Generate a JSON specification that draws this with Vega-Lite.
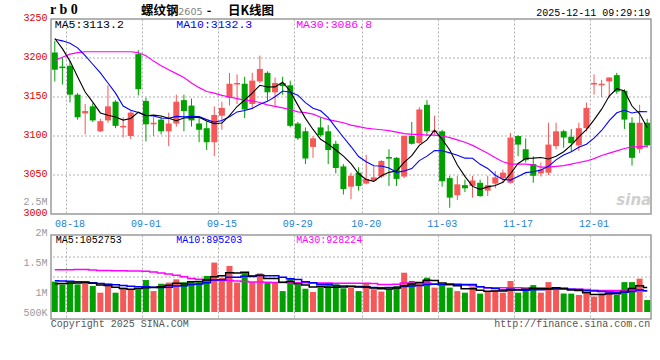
{
  "$schema": "https://vega.github.io/schema/vega-lite/v6.json",
  "padding": {"left": 22, "top": 2, "right": 10, "bottom": 4},
  "background": "white",
  "config": {
    "view": {"stroke": "#9a9a9a", "strokeWidth": 1.5},
    "axis": {"labelFont": "Liberation Mono", "labelFontSize": 10, "domain": false, "ticks": false, "gridColor": "#b0b0b0", "gridDash": [2, 2], "gridWidth": 1, "labelOverlap": false, "labelFlush": false}
  },
  "datasets": {
    "k": [
      {"d":"08-14","o":3207,"h":3222,"l":3170,"c":3185,"v":1320000,"m5":3225,"m10":3224,"m30":3197,"vm5":1230000,"vm10":1360000,"vm30":1840000},
      {"d":"08-15","o":3189,"h":3200,"l":3166,"c":3187,"v":1200000,"m5":3212,"m10":3222,"m30":3201,"vm5":1240000,"vm10":1350000,"vm30":1840000},
      {"d":"08-18","o":3190,"h":3196,"l":3143,"c":3153,"v":1350000,"m5":3196,"m10":3219,"m30":3205,"vm5":1250000,"vm10":1340000,"vm30":1840000},
      {"d":"08-19","o":3153,"h":3155,"l":3121,"c":3124,"v":1200000,"m5":3176,"m10":3213,"m30":3207,"vm5":1265000,"vm10":1320000,"vm30":1850000},
      {"d":"08-20","o":3129,"h":3141,"l":3102,"c":3132,"v":1350000,"m5":3156.4,"m10":3203,"m30":3208,"vm5":1284000,"vm10":1300000,"vm30":1850000},
      {"d":"08-21","o":3138,"h":3142,"l":3118,"c":3120,"v":1130000,"m5":3143.4,"m10":3192,"m30":3208,"vm5":1246000,"vm10":1270000,"vm30":1830000},
      {"d":"08-22","o":3106,"h":3122,"l":3105,"c":3119,"v":840000,"m5":3129.6,"m10":3181,"m30":3208,"vm5":1174000,"vm10":1240000,"vm30":1810000},
      {"d":"08-25","o":3120,"h":3165,"l":3117,"c":3138,"v":1230000,"m5":3126.6,"m10":3168,"m30":3208,"vm5":1150000,"vm10":1210000,"vm30":1800000},
      {"d":"08-26","o":3144,"h":3146,"l":3110,"c":3113,"v":840000,"m5":3124.4,"m10":3155,"m30":3208,"vm5":1078000,"vm10":1180000,"vm30":1790000},
      {"d":"08-27","o":3111,"h":3124,"l":3098,"c":3113,"v":1060000,"m5":3120.4,"m10":3138.4,"m30":3208,"vm5":1020000,"vm10":1152000,"vm30":1790000},
      {"d":"08-28","o":3100,"h":3132,"l":3096,"c":3130,"v":990000,"m5":3122.4,"m10":3132.9,"m30":3208,"vm5":992000,"vm10":1119000,"vm30":1780000},
      {"d":"08-29","o":3205,"h":3210,"l":3152,"c":3160,"v":990000,"m5":3130.6,"m10":3130.1,"m30":3207,"vm5":1022000,"vm10":1098000,"vm30":1780000},
      {"d":"09-01","o":3145,"h":3149,"l":3093,"c":3115,"v":1390000,"m5":3126.0,"m10":3126.3,"m30":3203,"vm5":1054000,"vm10":1102000,"vm30":1770000},
      {"d":"09-02","o":3115,"h":3124,"l":3100,"c":3117,"v":910000,"m5":3126.8,"m10":3125.6,"m30":3196,"vm5":1068000,"vm10":1073000,"vm30":1740000},
      {"d":"09-03","o":3121,"h":3125,"l":3102,"c":3106,"v":1230000,"m5":3125.6,"m10":3123.0,"m30":3190,"vm5":1102000,"vm10":1061000,"vm30":1700000},
      {"d":"09-04","o":3106,"h":3130,"l":3087,"c":3116,"v":1280000,"m5":3122.8,"m10":3122.6,"m30":3185,"vm5":1160000,"vm10":1076000,"vm30":1650000},
      {"d":"09-05","o":3116,"h":3153,"l":3112,"c":3144,"v":1420000,"m5":3119.6,"m10":3125.1,"m30":3180,"vm5":1246000,"vm10":1134000,"vm30":1600000},
      {"d":"09-08","o":3146,"h":3153,"l":3106,"c":3132,"v":1300000,"m5":3123.0,"m10":3124.5,"m30":3175,"vm5":1228000,"vm10":1141000,"vm30":1530000},
      {"d":"09-09","o":3139,"h":3148,"l":3112,"c":3120,"v":1350000,"m5":3123.6,"m10":3125.2,"m30":3168,"vm5":1316000,"vm10":1192000,"vm30":1460000},
      {"d":"09-10","o":3116,"h":3124,"l":3092,"c":3108,"v":1300000,"m5":3124.0,"m10":3124.8,"m30":3162,"vm5":1330000,"vm10":1216000,"vm30":1420000},
      {"d":"09-11","o":3110,"h":3119,"l":3082,"c":3092,"v":1570000,"m5":3119.2,"m10":3121.0,"m30":3157,"vm5":1388000,"vm10":1274000,"vm30":1400000},
      {"d":"09-12","o":3092,"h":3138,"l":3074,"c":3127,"v":2150000,"m5":3115.8,"m10":3117.7,"m30":3155,"vm5":1534000,"vm10":1390000,"vm30":1380000},
      {"d":"09-15","o":3126,"h":3144,"l":3108,"c":3136,"v":1490000,"m5":3116.6,"m10":3119.8,"m30":3152,"vm5":1572000,"vm10":1400000,"vm30":1380000},
      {"d":"09-16","o":3149,"h":3181,"l":3139,"c":3167,"v":2000000,"m5":3126.0,"m10":3124.8,"m30":3150,"vm5":1702000,"vm10":1509000,"vm30":1370000},
      {"d":"09-17","o":3166,"h":3179,"l":3141,"c":3168,"v":1280000,"m5":3137.8,"m10":3130.9,"m30":3148,"vm5":1698000,"vm10":1514000,"vm30":1350000},
      {"d":"09-18","o":3167,"h":3176,"l":3123,"c":3134,"v":1740000,"m5":3146.2,"m10":3132.7,"m30":3146,"vm5":1732000,"vm10":1560000,"vm30":1330000},
      {"d":"09-19","o":3141,"h":3181,"l":3136,"c":3171,"v":1300000,"m5":3155.0,"m10":3135.4,"m30":3145,"vm5":1562000,"vm10":1548000,"vm30":1310000},
      {"d":"09-22","o":3170,"h":3203,"l":3168,"c":3186,"v":1680000,"m5":3165.0,"m10":3140.8,"m30":3143,"vm5":1600000,"vm10":1586000,"vm30":1300000},
      {"d":"09-23","o":3181,"h":3183,"l":3145,"c":3156,"v":1300000,"m5":3162.8,"m10":3144.4,"m30":3140,"vm5":1460000,"vm10":1581000,"vm30":1290000},
      {"d":"09-24","o":3156,"h":3175,"l":3139,"c":3168,"v":1280000,"m5":3163.0,"m10":3150.4,"m30":3138,"vm5":1460000,"vm10":1579000,"vm30":1280000},
      {"d":"09-25","o":3168,"h":3176,"l":3153,"c":3164,"v":910000,"m5":3169.0,"m10":3157.6,"m30":3136,"vm5":1294000,"vm10":1513000,"vm30":1280000},
      {"d":"09-26","o":3165,"h":3171,"l":3111,"c":3113,"v":1450000,"m5":3157.4,"m10":3156.2,"m30":3134,"vm5":1324000,"vm10":1443000,"vm30":1270000},
      {"d":"09-29","o":3116,"h":3118,"l":3095,"c":3097,"v":1200000,"m5":3139.6,"m10":3152.3,"m30":3131,"vm5":1228000,"vm10":1414000,"vm30":1270000},
      {"d":"09-30","o":3106,"h":3111,"l":3064,"c":3071,"v":1010000,"m5":3122.6,"m10":3142.7,"m30":3130,"vm5":1170000,"vm10":1315000,"vm30":1270000},
      {"d":"10-09","o":3086,"h":3100,"l":3072,"c":3097,"v":870000,"m5":3108.4,"m10":3135.7,"m30":3128,"vm5":1088000,"vm10":1274000,"vm30":1260000},
      {"d":"10-10","o":3111,"h":3124,"l":3099,"c":3101,"v":1090000,"m5":3095.8,"m10":3132.4,"m30":3124,"vm5":1124000,"vm10":1209000,"vm30":1260000},
      {"d":"10-13","o":3106,"h":3114,"l":3064,"c":3082,"v":1230000,"m5":3089.6,"m10":3123.5,"m30":3121,"vm5":1080000,"vm10":1202000,"vm30":1260000},
      {"d":"10-14","o":3090,"h":3094,"l":3052,"c":3059,"v":1200000,"m5":3082.0,"m10":3110.8,"m30":3119,"vm5":1080000,"vm10":1154000,"vm30":1250000},
      {"d":"10-15","o":3061,"h":3064,"l":3025,"c":3032,"v":1030000,"m5":3074.2,"m10":3098.4,"m30":3117,"vm5":1084000,"vm10":1127000,"vm30":1250000},
      {"d":"10-16","o":3035,"h":3053,"l":3019,"c":3049,"v":1060000,"m5":3064.6,"m10":3086.5,"m30":3114,"vm5":1122000,"vm10":1105000,"vm30":1250000},
      {"d":"10-17","o":3053,"h":3060,"l":3030,"c":3036,"v":910000,"m5":3051.6,"m10":3073.7,"m30":3112,"vm5":1086000,"vm10":1105000,"vm30":1250000},
      {"d":"10-20","o":3039,"h":3076,"l":3038,"c":3045,"v":1230000,"m5":3044.2,"m10":3066.9,"m30":3110,"vm5":1086000,"vm10":1083000,"vm30":1250000},
      {"d":"10-21","o":3043,"h":3061,"l":3041,"c":3047,"v":990000,"m5":3041.8,"m10":3061.9,"m30":3109,"vm5":1044000,"vm10":1062000,"vm30":1240000},
      {"d":"10-22","o":3048,"h":3069,"l":3046,"c":3068,"v":890000,"m5":3049.0,"m10":3061.6,"m30":3108,"vm5":1016000,"vm10":1050000,"vm30":1200000},
      {"d":"10-23","o":3073,"h":3083,"l":3036,"c":3071,"v":990000,"m5":3053.4,"m10":3059.0,"m30":3107,"vm5":1002000,"vm10":1062000,"vm30":1200000},
      {"d":"10-24","o":3072,"h":3073,"l":3036,"c":3045,"v":1130000,"m5":3055.2,"m10":3053.4,"m30":3105,"vm5":1046000,"vm10":1066000,"vm30":1210000},
      {"d":"10-27","o":3048,"h":3101,"l":3046,"c":3100,"v":1710000,"m5":3066.2,"m10":3055.2,"m30":3103,"vm5":1142000,"vm10":1114000,"vm30":1260000},
      {"d":"10-28","o":3100,"h":3118,"l":3089,"c":3090,"v":1350000,"m5":3074.8,"m10":3058.3,"m30":3102,"vm5":1214000,"vm10":1129000,"vm30":1260000},
      {"d":"10-29","o":3091,"h":3137,"l":3090,"c":3134,"v":1230000,"m5":3088.0,"m10":3068.5,"m30":3102,"vm5":1282000,"vm10":1149000,"vm30":1260000},
      {"d":"10-30","o":3140,"h":3146,"l":3100,"c":3106,"v":1490000,"m5":3095.0,"m10":3074.2,"m30":3101,"vm5":1382000,"vm10":1192000,"vm30":1260000},
      {"d":"10-31","o":3105,"h":3126,"l":3102,"c":3107,"v":1060000,"m5":3107.4,"m10":3081.3,"m30":3101,"vm5":1368000,"vm10":1207000,"vm30":1220000},
      {"d":"11-03","o":3106,"h":3108,"l":3035,"c":3042,"v":1170000,"m5":3095.8,"m10":3081.0,"m30":3100,"vm5":1260000,"vm10":1201000,"vm30":1170000},
      {"d":"11-04","o":3046,"h":3049,"l":3008,"c":3021,"v":1060000,"m5":3082.0,"m10":3078.4,"m30":3098,"vm5":1202000,"vm10":1208000,"vm30":1170000},
      {"d":"11-05","o":3024,"h":3049,"l":3018,"c":3038,"v":910000,"m5":3062.8,"m10":3075.4,"m30":3095,"vm5":1138000,"vm10":1210000,"vm30":1170000},
      {"d":"11-06","o":3037,"h":3044,"l":3028,"c":3033,"v":840000,"m5":3048.2,"m10":3071.6,"m30":3092,"vm5":1008000,"vm10":1195000,"vm30":1170000},
      {"d":"11-07","o":3036,"h":3049,"l":3021,"c":3043,"v":1100000,"m5":3035.4,"m10":3071.4,"m30":3088,"vm5":1016000,"vm10":1192000,"vm30":1150000},
      {"d":"11-10","o":3040,"h":3044,"l":3022,"c":3023,"v":800000,"m5":3031.6,"m10":3063.7,"m30":3083,"vm5":942000,"vm10":1101000,"vm30":1100000},
      {"d":"11-11","o":3030,"h":3049,"l":3023,"c":3037,"v":870000,"m5":3034.8,"m10":3058.4,"m30":3078,"vm5":904000,"vm10":1053000,"vm30":1060000},
      {"d":"11-12","o":3039,"h":3055,"l":3033,"c":3047,"v":940000,"m5":3036.6,"m10":3049.7,"m30":3072,"vm5":910000,"vm10":1024000,"vm30":1060000},
      {"d":"11-13","o":3046,"h":3057,"l":3040,"c":3053,"v":840000,"m5":3040.6,"m10":3044.4,"m30":3067,"vm5":910000,"vm10":959000,"vm30":1060000},
      {"d":"11-14","o":3040,"h":3104,"l":3039,"c":3098,"v":1350000,"m5":3051.6,"m10":3043.5,"m30":3064,"vm5":960000,"vm10":988000,"vm30":1060000},
      {"d":"11-17","o":3100,"h":3101,"l":3074,"c":3089,"v":840000,"m5":3064.8,"m10":3048.2,"m30":3064,"vm5":968000,"vm10":955000,"vm30":1060000},
      {"d":"11-18","o":3083,"h":3097,"l":3066,"c":3069,"v":960000,"m5":3071.2,"m10":3053.0,"m30":3064,"vm5":986000,"vm10":945000,"vm30":1040000},
      {"d":"11-19","o":3064,"h":3074,"l":3040,"c":3049,"v":1170000,"m5":3071.6,"m10":3054.1,"m30":3063,"vm5":1032000,"vm10":971000,"vm30":1000000},
      {"d":"11-20","o":3052,"h":3066,"l":3048,"c":3057,"v":840000,"m5":3072.4,"m10":3056.5,"m30":3060,"vm5":1032000,"vm10":971000,"vm30":990000},
      {"d":"11-21","o":3053,"h":3117,"l":3050,"c":3089,"v":1300000,"m5":3070.6,"m10":3061.1,"m30":3060,"vm5":1022000,"vm10":991000,"vm30":990000},
      {"d":"11-24","o":3087,"h":3117,"l":3083,"c":3106,"v":1030000,"m5":3074.0,"m10":3069.4,"m30":3061,"vm5":1060000,"vm10":1014000,"vm30":990000},
      {"d":"11-25","o":3106,"h":3108,"l":3085,"c":3098,"v":800000,"m5":3079.8,"m10":3075.5,"m30":3062,"vm5":1028000,"vm10":1007000,"vm30":990000},
      {"d":"11-26","o":3099,"h":3109,"l":3080,"c":3091,"v":800000,"m5":3088.2,"m10":3079.9,"m30":3064,"vm5":954000,"vm10":993000,"vm30":990000},
      {"d":"11-27","o":3088,"h":3117,"l":3081,"c":3110,"v":740000,"m5":3098.8,"m10":3085.6,"m30":3066,"vm5":934000,"vm10":983000,"vm30":990000},
      {"d":"11-28","o":3110,"h":3143,"l":3106,"c":3136,"v":810000,"m5":3108.2,"m10":3089.4,"m30":3068,"vm5":836000,"vm10":929000,"vm30":980000},
      {"d":"12-01","o":3166,"h":3179,"l":3153,"c":3168,"v":670000,"m5":3120.6,"m10":3097.3,"m30":3071,"vm5":764000,"vm10":912000,"vm30":950000},
      {"d":"12-02","o":3165,"h":3172,"l":3150,"c":3167,"v":810000,"m5":3134.4,"m10":3107.1,"m30":3075,"vm5":766000,"vm10":897000,"vm30":940000},
      {"d":"12-03","o":3170,"h":3175,"l":3149,"c":3175,"v":940000,"m5":3151.2,"m10":3119.7,"m30":3078,"vm5":794000,"vm10":874000,"vm30":940000},
      {"d":"12-04","o":3178,"h":3181,"l":3154,"c":3157,"v":740000,"m5":3160.6,"m10":3129.7,"m30":3081,"vm5":794000,"vm10":864000,"vm30":940000},
      {"d":"12-05","o":3158,"h":3160,"l":3109,"c":3121,"v":1300000,"m5":3157.6,"m10":3132.9,"m30":3084,"vm5":892000,"vm10":864000,"vm30":940000},
      {"d":"12-08","o":3117,"h":3124,"l":3062,"c":3072,"v":1300000,"m5":3138.4,"m10":3129.5,"m30":3086,"vm5":1018000,"vm10":891000,"vm30":935000},
      {"d":"12-09","o":3083,"h":3140,"l":3078,"c":3117,"v":1450000,"m5":3128.4,"m10":3131.4,"m30":3086,"vm5":1146000,"vm10":956000,"vm30":930000},
      {"d":"12-10","o":3117,"h":3122,"l":3085,"c":3088,"v":520000,"m5":3111.0,"m10":3131.1,"m30":3087,"vm5":1062000,"vm10":928000,"vm30":928000}
    ]
  },
  "bounds": "flush",
  "spacing": 21,
  "vconcat": [
    {
      "width": 600,
      "height": 195,
      "data": {"name": "k"},
      "resolve": {"axis": {"y": "independent"}},
      "layer": [
        {
          "data": {"values": [{"g": 3050}, {"g": 3100}, {"g": 3150}, {"g": 3200}]},
          "mark": {"type": "rule", "color": "#b0b0b0", "strokeWidth": 1, "strokeDash": [2, 2]},
          "encoding": {"y": {"field": "g", "type": "quantitative", "axis": null}}
        },
        {
          "resolve": {"axis": {"y": "independent"}},
          "encoding": {
            "x": {
              "field": "d", "type": "ordinal", "sort": null, "title": null,
              "scale": {"type": "band", "paddingInner": 0, "paddingOuter": 0},
              "axis": {"values": ["08-18","09-01","09-15","09-29","10-20","11-03","11-17","12-01"], "bandPosition": 0, "grid": true, "labelOverlap": false, "labelColor": "#1e7fd6", "labelAngle": 0, "labelPadding": 4, "labelBaseline": "top", "labelAlign": "center"}
            }
          },
          "layer": [
            {
              "mark": {"type": "rule", "strokeWidth": 1},
              "encoding": {
                "y": {"field": "l", "type": "quantitative", "title": null,
                  "scale": {"domain": [3000, 3250], "nice": false, "zero": false},
                  "axis": {"orient": "left", "values": [3000, 3013.8, 3050, 3100, 3150, 3200, 3250], "grid": false, "labelOverlap": false, "labelFlush": false, "labelPadding": 4, "labelOffset": -1.5,
                    "labelExpr": "datum.value > 3010 && datum.value < 3020 ? '2.5M' : format(datum.value, 'd')",
                    "labelColor": {"condition": {"test": "datum.value > 3010 && datum.value < 3020", "value": "#9a9a9a"}, "value": "#e00000"}}},
                "y2": {"field": "h"},
                "color": {"condition": {"test": "datum.c >= datum.o", "value": "#f45858"}, "value": "#00a000"}
              }
            },
            {
              "mark": {"type": "bar", "size": 6},
              "encoding": {
                "y": {"field": "o", "type": "quantitative", "axis": null},
                "y2": {"field": "c"},
                "color": {"condition": {"test": "datum.c >= datum.o", "value": "#f45858"}, "value": "#00a000"}
              }
            },
            {"mark": {"type": "line", "color": "#ff00ff", "strokeWidth": 1.2}, "encoding": {"y": {"field": "m30", "type": "quantitative", "axis": null}}},
            {"mark": {"type": "line", "color": "#0000ff", "strokeWidth": 1.1}, "encoding": {"y": {"field": "m10", "type": "quantitative", "axis": null}}},
            {"mark": {"type": "line", "color": "#000000", "strokeWidth": 1.1}, "encoding": {"y": {"field": "m5", "type": "quantitative", "axis": null}}},
            {
              "data": {"values": [{}]},
              "mark": {"type": "text", "align": "left", "baseline": "middle", "font": "Liberation Mono", "fontSize": 11.5, "color": "#000000", "dx": 0, "dy": 6},
              "encoding": {"x": {"datum": "08-14", "type": "ordinal"}, "y": {"datum": 3250, "type": "quantitative", "axis": null}, "text": {"value": "MA5:3113.2"}}
            },
            {
              "data": {"values": [{}]},
              "mark": {"type": "text", "align": "left", "baseline": "middle", "font": "Liberation Mono", "fontSize": 11.5, "color": "#0000ff", "dx": 0, "dy": 6},
              "encoding": {"x": {"datum": "09-05", "type": "ordinal"}, "y": {"datum": 3250, "type": "quantitative", "axis": null}, "text": {"value": "MA10:3132.3"}}
            },
            {
              "data": {"values": [{}]},
              "mark": {"type": "text", "align": "left", "baseline": "middle", "font": "Liberation Mono", "fontSize": 11.5, "color": "#ff00ff", "dx": -1.7, "dy": 6},
              "encoding": {"x": {"datum": "09-29", "type": "ordinal"}, "y": {"datum": 3250, "type": "quantitative", "axis": null}, "text": {"value": "MA30:3086.8"}}
            },
            {
              "data": {"values": [{}]},
              "mark": {"type": "text", "align": "left", "baseline": "middle", "font": "Liberation Serif", "fontWeight": "bold", "fontSize": 14, "color": "#000000", "dx": -4.8, "dy": -9},
              "encoding": {"x": {"datum": "08-14", "type": "ordinal"}, "y": {"datum": 3250, "type": "quantitative", "axis": null}, "text": {"value": "r b 0"}}
            },
            {
              "data": {"values": [{}]},
              "mark": {"type": "text", "align": "left", "baseline": "middle", "font": "Noto Sans CJK SC", "fontWeight": "bold", "fontSize": 12.5, "color": "#000000", "dx": 2.7, "dy": -8.5},
              "encoding": {"x": {"datum": "08-29", "type": "ordinal"}, "y": {"datum": 3250, "type": "quantitative", "axis": null}, "text": {"value": "螺纹钢"}}
            },
            {
              "data": {"values": [{}]},
              "mark": {"type": "text", "align": "left", "baseline": "middle", "font": "DejaVu Sans", "fontSize": 9.5, "color": "#808080", "dx": 2, "dy": -7.5},
              "encoding": {"x": {"datum": "09-05", "type": "ordinal"}, "y": {"datum": 3250, "type": "quantitative", "axis": null}, "text": {"value": "2605"}}
            },
            {
              "data": {"values": [{}]},
              "mark": {"type": "text", "align": "left", "baseline": "middle", "font": "Noto Sans CJK SC", "fontWeight": "bold", "fontSize": 12.5, "color": "#000000", "dx": 0, "dy": -8.5},
              "encoding": {"x": {"datum": "09-11", "type": "ordinal"}, "y": {"datum": 3250, "type": "quantitative", "axis": null}, "text": {"value": "-"}}
            },
            {
              "data": {"values": [{}]},
              "mark": {"type": "text", "align": "left", "baseline": "middle", "font": "Noto Sans CJK SC", "fontWeight": "bold", "fontSize": 12.5, "color": "#000000", "dx": -1.5, "dy": -8.5},
              "encoding": {"x": {"datum": "09-16", "type": "ordinal"}, "y": {"datum": 3250, "type": "quantitative", "axis": null}, "text": {"value": "日K线图"}}
            },
            {
              "data": {"values": [{}]},
              "mark": {"type": "text", "align": "right", "baseline": "middle", "font": "Liberation Mono", "fontSize": 10, "color": "#000000", "dx": 3, "dy": -6.5},
              "encoding": {"x": {"datum": "12-10", "type": "ordinal"}, "y": {"datum": 3250, "type": "quantitative", "axis": null}, "text": {"value": "2025-12-11 09:29:19"}}
            },
            {
              "data": {"values": [{}]},
              "mark": {"type": "text", "align": "right", "baseline": "middle", "font": "DejaVu Sans", "fontStyle": "italic", "fontWeight": "bold", "fontSize": 15, "color": "#cfcfcf", "dx": 4, "dy": -14},
              "encoding": {"x": {"datum": "12-10", "type": "ordinal"}, "y": {"datum": 3000, "type": "quantitative", "axis": null}, "text": {"value": "sina"}}
            }
          ]
        }
      ]
    },
    {
      "width": 600,
      "height": 84,
      "data": {"name": "k"},
      "resolve": {"axis": {"y": "independent"}},
      "layer": [
        {
          "data": {"values": [{"g": 652000}, {"g": 1520000}, {"g": 2390000}]},
          "mark": {"type": "rule", "color": "#b0b0b0", "strokeWidth": 1, "strokeDash": [2, 2]},
          "encoding": {"y": {"field": "g", "type": "quantitative", "axis": null}}
        },
        {
          "resolve": {"axis": {"y": "independent"}},
          "encoding": {
            "x": {
              "field": "d", "type": "ordinal", "sort": null, "title": null,
              "scale": {"type": "band", "paddingInner": 0, "paddingOuter": 0},
              "axis": {"values": ["08-18","09-01","09-15","09-29","10-20","11-03","11-17","12-01"], "bandPosition": 0, "grid": true, "labels": false}
            }
          },
          "layer": [
            {
              "mark": {"type": "bar", "size": 6},
              "encoding": {
                "y": {"field": "v", "type": "quantitative", "title": null,
                  "scale": {"domain": [-304500, 3349500], "nice": false, "zero": false},
                  "axis": {"orient": "left", "values": [0, 870000, 2175000, 3349500], "grid": false, "labelOverlap": false, "labelFlush": false, "labelPadding": 4, "labelColor": "#9a9a9a",
                    "labelExpr": "datum.value == 0 ? '500K' : datum.value == 870000 ? '1M' : datum.value == 2175000 ? '1.5M' : '2M'",
                    "labelOffset": {"condition": {"test": "datum.value > 3000000", "value": -3}, "value": 0}}},
                "y2": {"datum": 0},
                "color": {"condition": {"test": "datum.c >= datum.o", "value": "#f45858"}, "value": "#00a000"}
              }
            },
            {"mark": {"type": "line", "color": "#ff00ff", "strokeWidth": 1.5, "interpolate": "step"}, "encoding": {"y": {"field": "vm30", "type": "quantitative", "axis": null}}},
            {"mark": {"type": "line", "color": "#0000ff", "strokeWidth": 1.5, "interpolate": "step"}, "encoding": {"y": {"field": "vm10", "type": "quantitative", "axis": null}}},
            {"mark": {"type": "line", "color": "#000000", "strokeWidth": 1.5, "interpolate": "step"}, "encoding": {"y": {"field": "vm5", "type": "quantitative", "axis": null}}},
            {
              "data": {"values": [{}]},
              "mark": {"type": "text", "align": "left", "baseline": "middle", "font": "Liberation Mono", "fontSize": 10, "color": "#000000", "dx": 1, "dy": 4.5},
              "encoding": {"x": {"datum": "08-14", "type": "ordinal"}, "y": {"datum": 3349500, "type": "quantitative", "axis": null}, "text": {"value": "MA5:1052753"}}
            },
            {
              "data": {"values": [{}]},
              "mark": {"type": "text", "align": "left", "baseline": "middle", "font": "Liberation Mono", "fontSize": 10, "color": "#0000ff", "dx": 0, "dy": 4.5},
              "encoding": {"x": {"datum": "09-05", "type": "ordinal"}, "y": {"datum": 3349500, "type": "quantitative", "axis": null}, "text": {"value": "MA10:895203"}}
            },
            {
              "data": {"values": [{}]},
              "mark": {"type": "text", "align": "left", "baseline": "middle", "font": "Liberation Mono", "fontSize": 10, "color": "#ff00ff", "dx": -1.7, "dy": 4.5},
              "encoding": {"x": {"datum": "09-29", "type": "ordinal"}, "y": {"datum": 3349500, "type": "quantitative", "axis": null}, "text": {"value": "MA30:928224"}}
            },
            {
              "data": {"values": [{}]},
              "mark": {"type": "text", "align": "left", "baseline": "middle", "font": "Liberation Mono", "fontSize": 10, "color": "#555555", "dx": -4, "dy": 5},
              "encoding": {"x": {"datum": "08-14", "type": "ordinal"}, "y": {"datum": -304500, "type": "quantitative", "axis": null}, "text": {"value": "Copyright 2025 SINA.COM"}}
            },
            {
              "data": {"values": [{}]},
              "mark": {"type": "text", "align": "right", "baseline": "middle", "font": "Liberation Mono", "fontSize": 10, "color": "#555555", "dx": 3, "dy": 5},
              "encoding": {"x": {"datum": "12-10", "type": "ordinal"}, "y": {"datum": -304500, "type": "quantitative", "axis": null}, "text": {"value": "http://finance.sina.com.cn"}}
            }
          ]
        }
      ]
    }
  ]
}
